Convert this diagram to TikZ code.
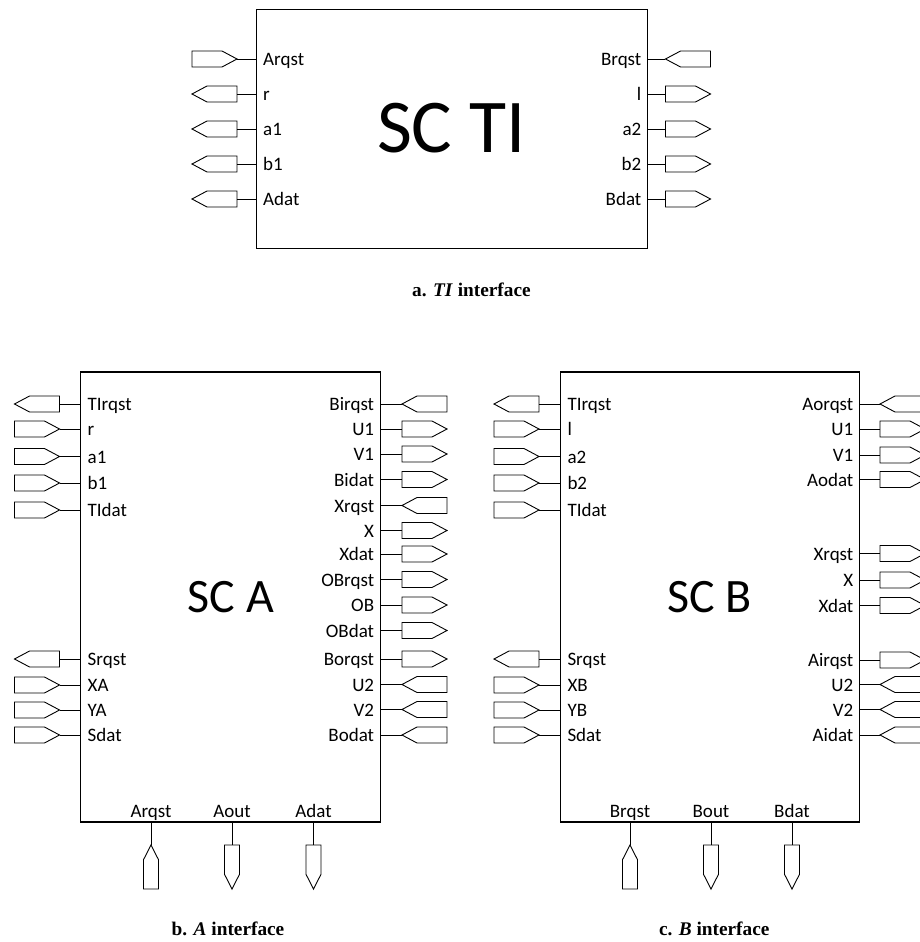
\documentclass[tikz,border=0pt]{standalone}
\usepackage{fontspec}
\setmainfont{Carlito}
\newfontfamily\capfont{Liberation Serif}
\usetikzlibrary{shapes.symbols}
\tikzset{
  box/.style={draw, line width=1.1pt, inner sep=0pt, outer sep=0pt},
  iopin/.style={signal, draw, line width=0.9pt, signal from=nowhere, signal pointer angle=56, inner sep=0pt, outer sep=0pt, minimum width=45pt, minimum height=16pt},
  pineast/.style={iopin, signal to=east, xshift=-7.5pt},
  pinwest/.style={iopin, signal to=west, xshift=7.5pt},
  vpin/.style={signal, draw, line width=0.9pt, signal from=nowhere, signal pointer angle=54, inner sep=0pt, outer sep=0pt, minimum width=15pt, minimum height=29.3pt},
  pinnorth/.style={vpin, signal to=north, yshift=-7.35pt},
  pinsouth/.style={vpin, signal to=south, yshift=7.35pt},
  wire/.style={line width=0.9pt},
  lbl/.style={inner sep=0pt, font=\fontsize{19}{22}\selectfont},
  bigtitle/.style={inner sep=0pt},
  captext/.style={inner sep=0pt, font=\capfont\bfseries\fontsize{19.3}{22}\selectfont},
}
% pins on the west side of a box: box, prefix, pin centre x, label x, list y/dir/text
\newcommand\pinsW[5]{%
  \foreach \y/\dir/\lab [count=\i] in {#5} {
    \node[pin\dir] (#2\i) at (#3,\y) {};
    \draw[wire] (#2\i) -- (#2\i -| #1.west);
    \node[lbl, anchor=base west] (#2t\i) at (#4,\y+6.5) {\lab};
  }}
% pins on the east side of a box
\newcommand\pinsE[5]{%
  \foreach \y/\dir/\lab [count=\i] in {#5} {
    \node[pin\dir] (#2\i) at (#3,\y) {};
    \draw[wire] (#2\i) -- (#2\i -| #1.east);
    \node[lbl, anchor=base east] (#2t\i) at (#4,\y+6.5) {\lab};
  }}
% pins on the south side of a box: box, prefix, list x/dir/text
\newcommand\pinsS[3]{%
  \foreach \x/\dir/\lab [count=\i] in {#3} {
    \node[pin\dir] (#2\i) at (\x,867) {};
    \draw[wire] (#2\i) -- (#2\i |- #1.south);
    \node[lbl, anchor=base] (#2t\i) at (\x,817) {\lab};
  }}
\begin{document}
\begin{tikzpicture}[x=1pt,y=-1pt]
\useasboundingbox (0,0) rectangle (920,942);
\clip (0,0) rectangle (920,942);

% ---------- a. TI interface ----------
\node[box, minimum width=391pt, minimum height=239pt] (TI) at (451.6,128.6) {};
\node[bigtitle, anchor=base, font=\fontsize{76}{80}\selectfont] (TItitle) at (451.5,152.5) {SC TI};
\pinsW{TI}{TIl}{214.5}{263}{59/east/Arqst, 94/west/r, 129/west/a1, 164/west/b1, 199/west/Adat}
\pinsE{TI}{TIr}{688}{641.5}{59/west/Brqst, 94/east/l, 129/east/a2, 164/east/b2, 199/east/Bdat}
\node[captext, anchor=base] (capa) at (471.4,296.7) {a. \textit{TI} interface};

% ---------- b. A interface ----------
\node[box, minimum width=300pt, minimum height=450pt] (A) at (230.6,597) {};
\node[bigtitle, anchor=base, font=\fontsize{48}{52}\selectfont] (Atitle) at (230.8,612.5) {SC A};
\pinsW{A}{Al}{37}{87.5}{404/west/TIrqst, 429/east/r, 456.5/east/a1, 483/east/b1, 510/east/TIdat,
  659/west/Srqst, 685/east/XA, 710/east/YA, 735/east/Sdat}
\pinsE{A}{Ar}{424.5}{374.3}{404/west/Birqst, 429/east/U1, 454/east/V1, 479.5/east/Bidat, 505.5/west/Xrqst,
  530.5/east/X, 554/east/Xdat, 579.5/east/OBrqst, 605/east/OB, 630.5/east/OBdat,
  659/east/Borqst, 684.5/west/U2, 709.5/west/V2, 735/west/Bodat}
\pinsS{A}{Ab}{151/north/Arqst, 232/south/Aout, 313.5/south/Adat}
\node[captext, anchor=base] (capb) at (228,935) {b. \textit{A} interface};

% ---------- c. B interface ----------
\node[box, minimum width=299pt, minimum height=450pt] (B) at (710,597) {};
\node[bigtitle, anchor=base, font=\fontsize{48}{52}\selectfont] (Btitle) at (709.7,612.5) {SC B};
\pinsW{B}{Bl}{516.5}{567.3}{404/west/TIrqst, 429/east/l, 456.5/east/a2, 483/east/b2, 510/east/TIdat,
  659/west/Srqst, 685/east/XB, 710/east/YB, 735/east/Sdat}
\pinsE{B}{Br}{902.5}{853.5}{404/west/Aorqst, 429/east/U1, 455/east/V1, 479.5/east/Aodat,
  553.5/east/Xrqst, 580/east/X, 605.5/east/Xdat,
  660/east/Airqst, 684.5/west/U2, 709.5/west/V2, 735/west/Aidat}
\pinsS{B}{Bb}{630/north/Brqst, 711/south/Bout, 792/south/Bdat}
\node[captext, anchor=base] (capc) at (714.2,935) {c. \textit{B} interface};
\end{tikzpicture}
\end{document}
